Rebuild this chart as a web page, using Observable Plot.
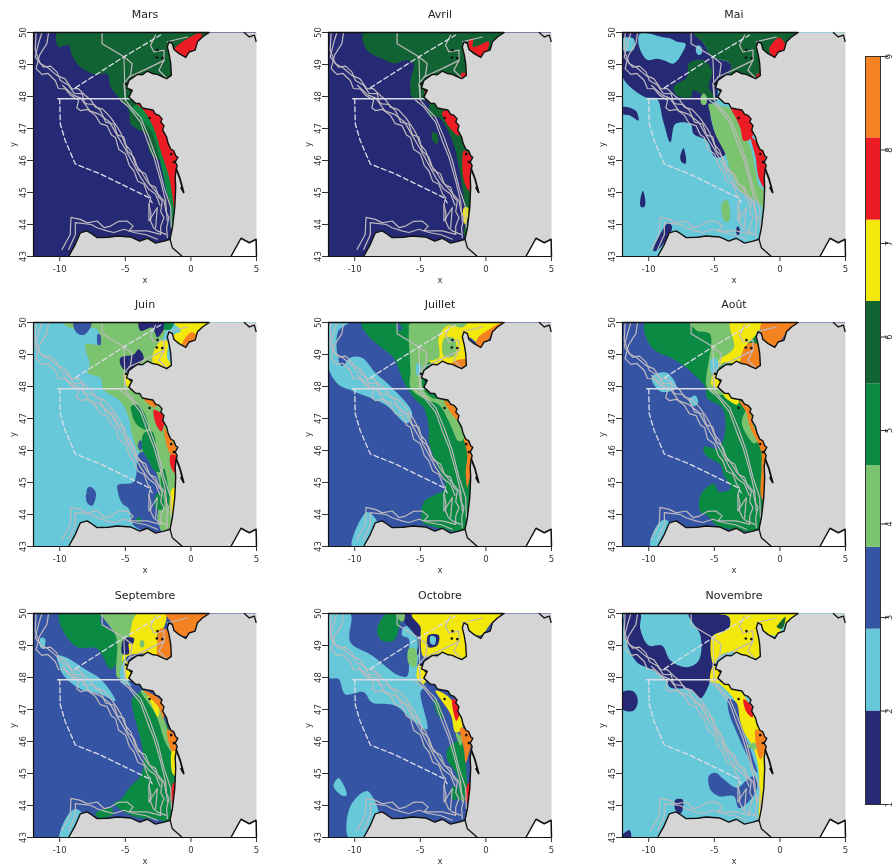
<!DOCTYPE html>
<html><head><meta charset="utf-8">
<script src="https://cdn.jsdelivr.net/npm/d3@7"></script>
<script src="https://cdn.jsdelivr.net/npm/@observablehq/plot@0.6"></script>
<style>
html,body{margin:0;padding:0;background:#fff}
#page{position:relative;width:895px;height:864px;overflow:hidden;filter:blur(.55px)}
#page>svg,#page>figure{position:absolute;margin:0;overflow:visible}
</style></head><body><div id="page"></div>
<script>
const classColors=["#262a75","#66c8d8","#3654a4","#7cc36f","#0b8a43","#126333","#f3e80c","#ec1c24","#f58220"];
const classes=[1,2,3,4,5,6,7,8,9];
const legendBreaks=[1,2,2.875,3.75,4.625,5.5,6.38,7.25,8.13,9];
const legendTicks=[1,2,3,4,5,6,7,8,9];
const lonTicks=[-10,-5,0,5];
const latTicks=[43,44,45,46,47,48,49,50];

const coast=[1.39,50,.88,49.86,.5,49.71,.32,49.45,-.14,49.39,-.39,49.22,-.9,49.34,-1.29,49.47,-1.41,49.65,-1.67,49.71,-1.8,49.55,-1.65,49.3,-1.54,49.03,-1.49,48.66,-1.85,48.56,-2.2,48.62,-2.56,48.69,-2.95,48.72,-3.33,48.79,-3.7,48.68,-4.09,48.69,-4.73,48.5,-4.91,48.27,-4.47,48.19,-4.73,47.98,-4.22,47.79,-3.9,47.78,-3.7,47.64,-3.33,47.61,-2.9,47.58,-2.7,47.45,-2.43,47.41,-2.2,47.3,-2.3,47.2,-2.05,47.09,-2.15,46.95,-1.85,46.73,-1.75,46.55,-1.54,46.36,-1.3,46.3,-1.16,46.15,-1,46.1,-1.2,45.95,-1.05,45.85,-1.11,45.73,-1.2,45.5,-1.16,45.16,-1.23,44.53,-1.41,43.9,-1.59,43.54,-2.05,43.48,-2.7,43.42,-3.33,43.57,-3.9,43.48,-4.6,43.61,-5.62,43.64,-6.3,43.6,-7.15,43.59,-7.6,43.72,-7.92,43.8,-8.43,43.74,-8.81,43.38,-9.32,43];
const gironde=[-1.11,45.73,-.85,45.45,-.55,45.0,-.75,45.15];
const pyrenees=[-1.59,43.54,-1.41,43.27,-.65,43];
const northIsland=[4.07,50,4.45,49.86,4.84,49.92,4.97,49.72];
const lion=[3.05,43,3.82,43.57,4.45,43.43,4.97,43.54,5,43];
const islandLon=[-2.18,-2.55,-2.6,-3.15,-1.5,-1.3,-4.95,-4.6];
const islandLat=[49.2,49.45,49.22,47.33,46.2,45.95,48.4,48.2];

const contours=[
[-10.85,50,-10.98,49.65,-11.3,49.45,-11.54,49.29,-11.8,48.87,-11.36,48.69,-10.9,48.72,-10.34,48.5,-10.1,48.25,-9.58,48.24,-9.2,48.05,-8.56,47.88,-8.7,47.65,-8.43,47.56,-7.9,47.6,-7.28,47.41,-6.9,47.15,-6.39,47.09,-6.05,46.8,-5.75,46.72,-5.5,46.35,-4.98,46.2,-4.7,45.85,-4.35,45.68,-4.05,45.35,-3.58,45.26,-3.3,44.95,-3.07,44.84,-3.2,44.63,-3.05,44.35,-3.07,44.11,-2.85,43.9,-2.56,43.8,-1.92,43.69],
[-11.36,50,-11.62,49.65,-11.87,49.24,-11.24,48.92,-10.7,48.95,-10.22,48.77,-9.95,48.5,-9.32,48.35,-8.9,48.1,-8.3,48.09,-8.1,47.8,-7.92,47.77,-7.4,47.75,-6.9,47.56,-6.5,47.2,-5.88,47.14,-5.6,46.8,-5.11,46.73,-4.85,46.3,-4.35,46.1,-4,45.7,-3.46,45.58,-3.15,45.25,-2.69,45.16,-2.45,44.85,-2.18,44.74,-2.3,44.4,-2.05,44.22,-2.3,43.95,-2.31,43.69],
[-11.8,50,-11.87,49.45,-11.49,49.03,-10.9,48.9,-10.22,48.66,-9.6,48.55,-9.07,48.24,-8.6,48.25,-8.05,48.03,-7.65,47.9,-7.28,47.67,-6.7,47.6,-6.13,47.35,-5.7,47.1,-5.37,46.88,-5,46.5,-4.6,46.31,-4.2,45.85,-3.84,45.68,-3.35,45.35,-2.95,45.16,-2.5,44.95,-2.05,44.74,-1.9,44.4,-1.67,44.22,-1.85,43.9,-1.8,43.59],
[-9.8,48.35,-9,48.05,-8.4,47.95,-7.7,47.55,-7,47.45,-6.2,47.2,-5.5,46.7,-5,46.35,-4.4,45.9,-3.8,45.45,-3.2,45.1,-2.7,44.95,-2.35,44.6],
[-4.99,47.88,-4.48,47.62,-3.84,47.35,-3.2,46.73,-2.56,46,-2.05,45.16,-1.54,44.53,-1.49,43.9],
[-5.37,47.88,-4.73,47.67,-3.84,47.2,-3.33,46.62,-2.82,46.1,-2.31,45.37,-1.93,44.74,-1.8,44.11],
[-6.77,50,-6.77,49.65,-5.11,49.24,-4.48,49.03,-4.6,48.66,-5.11,48.4,-4.99,47.88],
[-2.69,49.92,-3.08,49.6,-2.82,49.39,-2.05,49.45,-2.05,49.13,-2.44,48.82,-1.8,48.56],
[-4.73,48.61,-3.33,48.87,-2.05,49.13],
[-1.8,49.71,-.27,49.86],
[-9.83,43.22,-9.2,43.69,-9.14,44.22,-8.43,44.16,-7.9,44.05,-7.15,44.11,-6.6,43.9,-6.13,43.95,-5.5,44.1,-4.86,44.11,-4.4,43.95,-4.73,43.8,-3.33,43.8,-2.31,43.69],
[-9.32,43.22,-8.81,43.69,-8.81,44.06,-7.6,44,-7.15,43.9,-6.4,43.8,-5.88,43.75,-5.1,43.85,-4.35,43.75,-3.4,43.68,-2.56,43.54],
[-3.2,44.63,-3.2,44.11,-2.56,44.53,-2.69,43.9]
];
const boxLine=[-10.16,47.93,-4.47,47.93];
const ridgeLine=[-5.11,49.24,-5,47.93];
const dashedA=[-10,47.93,-9.96,47.15,-9.58,46.62,-8.81,45.89,-6.9,45.58,-3.2,44.84,-2.95,44.68];
const dashedB=[-8.81,48.27,-5.11,49.24,-2.31,49.92];

const mars=[
[6,[-10.16,50,-10.09,49.55,-9.3,49.6,-9.07,49.29,-8.43,48.92,-7.28,48.69,-6.39,48.71,-6.13,48.3,-5.62,48.03,-4.73,47.56,-4.6,47.14,-3.33,46.78,-3.2,46.31,-2.69,46.08,-1.5,46,-1,48,1.4,50]],
[5,[-4.6,47.6,-3.8,47.3,-3,46.9,-2.6,46.4,-2.2,45.7,-1.9,45.1,-1.55,44.5,-1.5,43.9,-1,43.9,-1,48]],
[8,[-4.3,47.85,-3.58,47.56,-2.82,47,-2.3,46.3,-1.67,45.5,-1.41,44.9,-1.23,44.5,-.9,44.5,-.9,47,-3,48,-4.2,48]],
[8,[-.25,49.81,-1.29,49.45,-.78,49.3,-.3,49.15,.75,49.55,.75,49.97]]];

const avril=[
[6,[-9.32,50,-9.07,49.45,-7.66,49.13,-6.9,49.03,-6.13,49.13,-5.5,49.03,-5.75,48.5,-5.62,47.98,-4.35,47.82,-4.35,47.41,-3.59,47.35,-2.56,46.62,-2.05,45.78,-1.54,44.11,-1.67,43.69,-1,43.5,-1,48,1.4,50]],
[8,[-3.33,47.51,-2.82,47.56,-1.93,47.2,-2.05,46.78,-2.69,46.99]],
[8,[-1.67,46.31,-1.1,46.1,-1.16,45.68,-1.29,45.05,-1.67,45.37,-1.8,45.89]],
[8,[-1.29,49.76,-.98,49.81,-.98,49.55,.24,49.71,-.27,49.22,-.9,49.39,-1.29,49.5]],
[8,[-1.87,48.73,-1.54,48.73,-1.54,48.56,-1.87,48.56]],
[8,[-4.6,48.32,-4.35,48.32,-4.35,48.03,-4.6,48.03]],
[7,[-1.67,44.53,-1.37,44.53,-1.54,44,-1.72,44.11]],
[6,[-4.1,46.88,-3.71,46.83,-3.71,46.52,-4.05,46.62]]];

const mai=[
[1,[-12,50,-6.57,50,-5.8,49.65,-5.17,49.24,-3.77,49.03,-3.77,48.77,-4.66,48.5,-4.79,47.88,-5.17,47.77,-5.3,47.46,-4.92,46.83,-4.15,46.2,-4.92,46.1,-5.55,46.62,-6.57,46.83,-6.82,47.14,-7.97,47.14,-8.35,46.57,-8.91,47.25,-9.38,47.93,-10.27,47.98,-12,48.61]],
[2,[-12,49.81,-11.16,49.81,-11.16,49.45,-12,49.45]],
[2,[-10.65,49.97,-8.99,49.86,-8.35,49.81,-7.84,49.71,-7.2,49.65,-7.33,49.45,-8.1,49.03,-8.86,49.13,-9.38,49.18,-10.14,49.15,-10.78,49.65]],
[2,[-6.3,49.6,-6,49.55,-5.95,49.35,-6.2,49.3,-6.4,49.4]],
[6,[-6.57,50,1.4,50,-1,48.6,-1.5,48.4,-3.8,48.5,-3.77,49.03,-5.17,49.24,-5.8,49.65]],
[6,[-8.1,48.3,-7.08,48.61,-6.95,49.03,-5.8,49.13,-5.17,48.77,-5.42,48.3,-4.79,47.88,-5.3,47.88,-6.57,48.19,-6.82,47.98,-7.84,48.03]],
[4,[-5.42,47.77,-4.66,47.72,-3.77,47.62,-3,46.99,-2.25,46.41,-1.8,45.58,-1.6,45.2,-1.2,45.05,-1.2,44.3,-1.5,44.63,-2.25,44.84,-3,45.05,-3.77,45.68,-4.15,46.2,-4.92,46.83,-5.3,47.46]],
[8,[-3.77,47.69,-3.13,47.65,-2.36,47.35,-1.93,46.99,-2.25,46.67,-2.77,46.62,-3,46.99,-3.38,47.35]],
[8,[-2.2,46.73,-1.2,46.2,-1.1,45.1,-1.62,45.47,-1.85,46.1]],
[8,[-.06,49.84,-.83,49.45,-.32,49.22,.42,49.55]],
[8,[-1.75,48.7,-1.3,48.7,-1.3,48.5,-1.75,48.5]],
[4,[-4.35,44.7,-4,44.75,-3.8,44.35,-3.9,44.1,-4.2,44.1,-4.45,44.4]],
[4,[-6.05,47.95,-5.8,48.1,-5.55,47.95,-5.65,47.75,-5.95,47.75]],
[1,[-7.6,46.1,-7.35,46.38,-7.15,46.05,-7.2,45.9,-7.5,45.95]],
[1,[-10.65,44.75,-10.45,45.05,-10.25,44.7,-10.35,44.55,-10.6,44.55]],
[1,[-3.35,43.8,-3.2,43.95,-3.05,43.8,-3.2,43.65]],
[1,[-8.48,44.06,-8.22,43.9,-9.27,43.22,-9.65,43.17]],
[1,[-12,47.67,-11,47.56,-10.78,47.25,-11.4,47.4,-12,47.46]]];

const juin=[
[4,[-9.7,50,-9.07,49.81,-7.15,49.79,-7.03,49.32,-8.05,49.32,-7.71,48.69,-7.87,48.43,-6.9,48.27,-6.64,47.9,-5.37,47.54,-4.73,47.01,-4.48,46.49,-3.97,45.96,-3.46,45.86,-2.56,45.23,-2.31,44.6,-2.56,43.97,-2.05,43.4,-1,43.4,-1,47,-3,48.5,-2,50]],
[3,[-8.94,50,-8.73,49.69,-8.17,49.61,-7.66,49.84,-7.61,50]],
[3,[-5.57,44.92,-4.35,45.02,-3.97,45.9,-3.46,45.96,-2.56,45.23,-2.31,44.6,-2.56,43.87,-2.31,43.4,-4.35,43.66,-4.73,44.18,-5.24,44.34,-5.57,44.7]],
[3,[-4.05,46.15,-3.85,46.33,-3.65,46.15,-3.85,46]],
[3,[-7.97,44.65,-7.87,44.83,-7.61,44.86,-7.26,44.7,-7.31,44.44,-7.54,44.27,-7.87,44.34,-8.02,44.55]],
[3,[-7.1,49.65,-6.9,49.6,-6.9,49.3,-7.1,49.3]],
[5,[-4.55,47.38,-3.97,47.43,-3.2,46.75,-3.33,46.65,-4.1,46.8,-4.48,47.12]],
[5,[-3.59,46.54,-2.95,46.59,-2.56,45.86,-2.31,45.34,-2.69,45.34,-3.33,45.75,-3.71,46.07]],
[5,[-2.05,45.44,-1.67,44.71,-1.54,44.08,-1.93,44.39,-2.31,45.13]],
[5,[-2.69,44.6,-2.31,44.71,-2.05,44.18,-2.69,44.18]],
[5,[-4.1,43.9,-3.85,43.9,-3.85,43.75,-4.1,43.75]],
[1,[-3.97,50,-1.93,50,-2.56,49.53,-2.95,49.84,-3.84,49.74]],
[1,[-5.37,48.9,-4.35,49,-3.97,49.16,-3.59,48.9,-4.1,48.64,-4.73,48.43,-5.32,48.64]],
[7,[-2.95,48.9,-2.31,49.42,-1.8,49.42,-1.8,48.9,-1.54,48.69,-2.05,48.53,-2.69,48.59]],
[5,[-1.93,50,-1.29,50,-1.54,49.79,-2.05,49.79]],
[7,[-1.29,50,1.26,50,.5,49.69,-.14,49.37,-1.29,49.32,-1.42,49.58,-.78,49.74]],
[9,[0,49.69,.5,49.58,.12,49.27,-.65,49.32]],
[7,[-4.99,48.38,-4.48,48.06,-4.73,47.96,-5.11,48.22]],
[9,[-3.6,47.75,-2.6,47.5,-2.7,47.35,-3.5,47.55]],
[8,[-2.82,47.27,-2.05,47.06,-2.25,46.59,-2.69,46.85]],
[9,[-2.05,46.7,-1.42,46.28,-1,45.96,-1.16,45.75,-1.67,45.96]],
[8,[-1.54,45.86,-1,45.8,-1.16,45.28,-1.54,45.5]],
[7,[-1.42,44.81,-1,44.81,-1,44,-1.5,44]]];

const juillet=[
[2,[-12,50,-10.47,50,-11.24,49.74,-11.36,49.11,-10.98,48.64,-10.34,48.9,-9.45,48.9,-8.43,48.43,-7.41,48.06,-5.62,47.17,-6.01,46.85,-7.66,47.43,-10.09,47.85,-11.24,48.06,-12,48.59]],
[2,[-10.22,43,-9.07,44.08,-8.3,43.76,-9.2,43]],
[5,[-9.45,50,-9.07,49.63,-7.79,49.16,-7.03,48.9,-6.39,48.27,-6.01,47.96,-5.37,47.59,-4.73,47.33,-4.35,46.7,-4.35,46.28,-3.84,45.65,-3.08,44.81,-3.97,44.6,-4.73,44.39,-4.86,43.76,-4.35,43.66,-2.05,43.45,-1,43.4,-1,48,-2,50]],
[3,[-6.75,50,-6.45,49.9,-6.45,49.75,-6.75,49.8]],
[4,[-5.75,50,-1.29,50,-2,49,-3.5,48.8,-4.3,48.8,-4.86,48.02,-4.1,47.64,-3.33,47.59,-1.67,46.38,-2.05,46.28,-2.82,46.91,-3.59,47.43,-4.6,47.59,-5.75,47.96,-5.75,48.48,-5.88,49.74]],
[2,[-5.3,48.7,-5,48.7,-4.95,48.35,-5.25,48.35]],
[7,[-4.35,48.79,-3.59,48.9,-3.59,49.53,-2.95,49.9,-1.8,49.84,-1.29,50,1.26,50,.5,49.74,-.39,49.32,-1.29,49.53,-1.29,48.64,-2.56,48.59]],
[4,[-3.2,49.5,-2.4,49.5,-2.4,48.95,-3.2,48.95]],
[9,[-.65,49.5,.3,49.8,1.26,50,.4,49.6,-.3,49.2,-.7,49.3]],
[9,[-2.56,48.74,-1.54,48.85,-1.42,48.59,-2.44,48.53]],
[9,[-3.2,47.56,-2.56,47.43,-1.93,47.01,-2.18,46.96,-2.82,47.27]],
[9,[-1.67,46.38,-1,46.02,-1.16,45.34,-1.42,44.86,-1.54,45.34,-1.42,45.86]]];

const aout=[
[5,[-10.27,50,-9.75,49.21,-8.1,48.85,-6.82,48.48,-5.67,47.96,-5.55,47.64,-4.4,47.33,-4.15,46.7,-4.66,46.07,-5.8,46.12,-5.67,45.86,-4.53,45.55,-4.27,45.23,-3.77,44.81,-4.66,44.71,-5.04,44.97,-6.06,44.6,-6.06,44.08,-5.55,43.97,-4.79,43.66,-1.98,43.45,-1,43.4,-1,48,-2,50]],
[4,[-6.82,50,-3.77,50,-3.51,49.21,-4.53,48.69,-4.92,48.38,-4.27,47.75,-4.66,47.75,-5.55,47.96,-5.32,49.63,-6.31,49.74]],
[7,[-3.77,50,-1.34,50,-1.98,49.53,-2.49,49.32,-3.13,48.74,-4.27,48.74,-5.04,48.46,-5.17,48.64,-4.6,48.85,-3.51,49.21]],
[9,[-1.34,50,1.26,50,.58,49.74,-.32,49.27,-1.16,49.42,-1.49,49.74]],
[9,[-2.49,49.32,-1.72,49.32,-1.49,48.69,-2.49,48.5,-3,48.79]],
[7,[-5.04,48.38,-4.4,48.06,-4.66,47.98,-5.24,48.06]],
[7,[-4.27,47.8,-3.13,47.56,-3.25,47.43,-4.27,47.7]],
[2,[-9.75,48.32,-8.61,48.43,-7.9,47.96,-8.99,47.83,-9.62,48.06]],
[2,[-6.95,47.59,-6.44,47.72,-6.24,47.49,-6.57,47.38]],
[2,[-9.88,43,-9.38,43.66,-8.73,43.84,-8.22,43.55,-9.27,43]],
[2,[-5.25,48.85,-4.75,48.85,-4.8,48.4,-5.2,48.4]],
[4,[-2.49,47.27,-1.72,46.28,-1.98,46.22,-2.9,46.85]],
[9,[-3.13,47.56,-2.33,47.33,-1.98,46.7,-1,46.22,-1.1,45.44,-1.2,44.4,-1.45,44.6,-1.4,45.44,-1.45,46,-2.25,46.7,-2.6,47.22]]];

const septembre=[
[5,[-10,50,-9.83,49.53,-8.68,48.95,-7.15,48.9,-6.13,48.27,-5.62,48.48,-5.62,49,-5.75,49.32,-6.9,49.74,-6.9,50]],
[4,[-6.9,50,-4.1,50,-4.73,49.21,-5.24,48,-5.62,48,-5.62,49,-5.75,49.32,-6.64,49.84]],
[7,[-4.1,50,-1.93,50,-2.05,49.58,-2.56,49.32,-2.31,48.59,-3.33,48.74,-4.73,48.69,-5.24,48.53,-4.73,49.21]],
[4,[-3.85,49.15,-3.6,49.15,-3.6,48.95,-3.85,48.95]],
[1,[-5.11,49.21,-4.35,49.23,-4.42,49.06,-4.73,49.06,-4.73,48.74,-5.24,48.74]],
[9,[-1.93,50,1.26,50,.62,49.69,-.14,49.32,-1.29,49.37,-1.42,49.69]],
[9,[-2.31,49.53,-1.67,49.42,-1.54,48.59,-2.44,48.56,-2.56,49.11]],
[2,[-5.37,48.27,-4.99,48.53,-4.73,47.85,-4.48,47.75,-5.24,47.85]],
[7,[-4.99,48.53,-4.35,48.11,-4.6,47.9,-5.06,48.06]],
[5,[-4.48,47.33,-3.84,47.54,-3.08,47.22,-1.93,46.59,-1.16,45.65,-1.29,43.97,-1.54,43.4,-2.31,43.55,-4.35,43.66,-5.88,44.08,-5.37,44.18,-4.6,44.6,-3.84,44.92,-3.59,45.44,-3.97,46.28,-4.35,46.85]],
[5,[-7.28,43.76,-6.13,43.92,-5.88,43.76,-6.9,43.6]],
[2,[-10.22,48.69,-9.58,48.64,-7.92,48.22,-6.9,47.96,-5.75,47.27,-6.9,47.48,-8.43,47.64,-9.71,48.06,-10.09,48.43]],
[2,[-10,43,-9.45,43.66,-8.81,43.89,-8.3,43.76,-8.43,43.5,-9.32,43]],
[2,[-11.44,49.24,-11.11,49.2,-11.24,48.9,-11.49,48.95]],
[4,[-3.84,47.59,-3.08,47.48,-2.05,46.7,-1.42,45.65,-1.93,45.96,-2.69,46.85]],
[7,[-3.33,47.43,-2.44,47.06,-2.51,46.76,-3.08,47.22]],
[9,[-3.59,47.59,-2.56,47.38,-2.05,47.12,-2.13,46.7,-2.44,47.06]],
[9,[-1.8,46.38,-1,46.07,-1.16,45.44,-1.54,45.75]],
[7,[-1.42,45.7,-1,45.65,-1.2,44.92,-1.42,45.02]],
[8,[-1.34,44.71,-1,44.71,-1,44.08,-1.42,44.08]]];

const octobre=[
[2,[-12,50,-10.34,50,-10.34,49.11,-8.68,48.69,-6.64,48.06,-6.01,48.04,-5.88,48.79,-5.88,49.21,-6.39,49.32,-6.26,49.58,-5.62,49.58,-4.99,49.32,-5.24,48.27,-5.11,47.85,-4.73,47.7,-4.99,47.54,-4.48,46.38,-5.37,46.59,-6.9,47.12,-8.68,47.22,-9.32,47.54,-10.73,47.48,-11.24,47.96,-12,48]],
[2,[-10.47,43,-10.34,43.97,-9.07,44.45,-8.3,43.97,-8.17,43.55,-9.32,43]],
[2,[-11.62,44.6,-11.24,44.86,-10.6,44.34,-10.85,44.29]],
[1,[-6.13,50,-5.11,50,-4.73,49.32,-5.24,48.69,-5.24,49.21,-6.26,49.79]],
[5,[-8.3,49.48,-7.54,50,-6.52,49.9,-6.64,49.53,-7.03,49.16,-7.92,49.16]],
[4,[-6.75,50,-6.2,50,-6.3,49.75,-6.6,49.8]],
[4,[-5.88,48.9,-5.37,48.9,-5.37,48.32,-5.88,48.43]],
[7,[-5.62,50,1.13,50,.37,49.69,-.39,49.32,-1.29,49.42,-1.54,49.69,-1.54,48.64,-2.56,48.59,-3.59,48.74,-4.73,48.64,-4.99,49.21,-4.99,49.58,-5.62,49.9]],
[1,[-4.4,49.32,-3.59,49.32,-3.71,49,-4.4,48.95]],
[2,[-4.22,49.3,-3.84,49.26,-3.9,49.03,-4.22,49.06]],
[7,[-5.11,48.43,-4.48,48.06,-4.73,47.8,-5.24,47.96]],
[7,[-3.84,47.59,-2.95,47.43,-2.05,46.91,-1.8,46.38,-2.31,46.28,-2.69,46.85]],
[8,[-2.56,47.33,-1.93,47.12,-2.25,46.64]],
[5,[-3.97,47.33,-3.59,47.22,-3.28,46.7,-3.71,46.85]],
[5,[-2.95,45.75,-2.44,45.96,-1.93,46.02,-1.49,45.02,-1.49,44.18,-2.05,44.18,-2.18,44.92,-2.95,45.44]],
[5,[-2.56,44.6,-2.18,44.5,-2.25,44.18,-2.62,44.23]],
[4,[-2.31,46.28,-1.8,46.12,-1.93,45.86]],
[9,[-1.93,46.43,-1,46.17,-1.16,45.86,-1.54,45.34,-1.67,45.75]],
[8,[-1.34,44.7,-1,44.7,-1,44.08,-1.49,44.08]]];

const novembre=[
[1,[-11.8,50,-10.65,50,-10.65,49.53,-10,49,-8.99,49,-8.35,48.53,-7.08,48.32,-6.19,48.53,-6.06,49.32,-6.95,50,-3.89,49.9,-3.89,49.53,-5.17,49.27,-5.04,48.38,-5.3,47.9,-6.06,47.35,-6.82,47.64,-8.35,47.69,-8.73,47.96,-9.88,48.27,-10.9,48.48,-11.67,49.11]],
[7,[-5.67,50,1.2,50,.42,49.69,-.32,49.32,-1.16,49.42,-1.49,49.69,-1.62,48.64,-2.49,48.59,-3.51,48.79,-4.5,48.7,-5.04,48.38,-5.17,49.27,-3.89,49.53,-3.89,49.9]],
[1,[-7.97,44.18,-7.41,44.18,-7.54,43.76,-7.97,43.87]],
[1,[-12,47.54,-11.16,47.56,-10.83,47.28,-11.16,46.96,-12,47.01]],
[1,[-12,43.08,-11.46,43.23,-11.36,43,-12,43]],
[7,[-5.04,48.38,-4.4,48.06,-4.66,47.83,-5.3,47.9]],
[7,[-4.66,47.85,-3,47.56,-1.85,46.7,-1.1,46.12,-1.1,44.6,-1.42,43.97,-1.6,43.5,-1.6,44.18,-1.6,45.02,-1.98,45.75,-3,46.49,-3.51,47.33]],
[3,[-5.42,44.92,-4.92,45.02,-4.27,44.81,-3.25,44.55,-2.49,44.81,-1.98,44.92,-1.72,44.6,-2.25,44.18,-3.13,43.92,-3.51,44.29,-4.66,44.29,-5.3,44.5]],
[3,[-3.95,47.33,-3.33,47.22,-3,46.59,-2.25,45.75,-1.72,45.02,-2.49,45.55,-3.51,46.49,-3.89,46.91]],
[8,[-2.77,47.33,-2.1,47.06,-2.1,46.75,-2.6,46.96]],
[9,[-1.85,46.38,-1,46.17,-1.05,45.86,-1.49,45.44]],
[4,[-2.49,45.86,-1.93,45.96,-1.8,45.75]],
[6,[-.07,49.69,.42,49.9,.17,49.53,-.25,49.58]]];

const panels=[
["Mars",1,mars,0,0],["Avril",1,avril,1,0],["Mai",2,mai,2,0],
["Juin",2,juin,0,1],["Juillet",3,juillet,1,1],["Août",3,aout,2,1],
["Septembre",3,septembre,0,2],["Octobre",3,octobre,1,2],["Novembre",2,novembre,2,2]];
const colLeft=[0,295,589], rowTop=[0,290,581];

const toRows=(flat,id,extra={})=>{const r=[];for(let i=0;i<flat.length;i+=2)r.push({id,lon:flat[i],lat:flat[i+1],...extra});return r;};
const landPoly=toRows([...coast,5,43,5,50],"land");
const lionPoly=toRows(lion,"lion");
const contourRows=contours.flatMap((c,i)=>toRows(c,i));
const page=document.getElementById("page");
const fontFamily="'DejaVu Sans',sans-serif";
const black="#111", pale="#dcdce6";

for(const [title,base,polys,col,row] of panels){
  const fills=polys.flatMap(([cls,pts],i)=>toRows(pts,i,{cls}));
  const p=Plot.plot({
    width:270,height:290,marginLeft:33,marginRight:14,marginTop:32,marginBottom:34,
    style:{fontFamily,fontSize:"8.5px",color:"#333",background:"transparent",overflow:"visible"},
    x:{domain:[-12,5]},y:{domain:[43,50]},
    color:{type:"ordinal",domain:classes,range:classColors},
    marks:[
      Plot.rect([{cls:base}],{x1:-12,x2:5,y1:43,y2:50,fill:"cls"}),
      Plot.line(fills,{x:"lon",y:"lat",z:"id",fill:"cls",stroke:"none",curve:"catmull-rom-closed",clip:"frame"}),
      Plot.line(landPoly,{x:"lon",y:"lat",fill:"#d5d5d5",stroke:"none"}),
      Plot.line(lionPoly,{x:"lon",y:"lat",fill:"#fff",stroke:black,strokeWidth:1.5}),
      Plot.line(contourRows,{x:"lon",y:"lat",z:"id",stroke:"#bfbabe",strokeWidth:1.2}),
      Plot.line(toRows(boxLine,"b"),{x:"lon",y:"lat",stroke:pale,strokeWidth:1.4}),
      Plot.line(toRows(ridgeLine,"r"),{x:"lon",y:"lat",stroke:"#c8c8c8",strokeWidth:1}),
      Plot.line(toRows(dashedA,"a"),{x:"lon",y:"lat",stroke:pale,strokeWidth:1.3,strokeDasharray:"5,3"}),
      Plot.line(toRows(dashedB,"d"),{x:"lon",y:"lat",stroke:pale,strokeWidth:1.3,strokeDasharray:"5,3"}),
      Plot.line(toRows(coast,"c"),{x:"lon",y:"lat",stroke:black,strokeWidth:1.4}),
      Plot.line(toRows(gironde,"g"),{x:"lon",y:"lat",stroke:black,strokeWidth:1.8}),
      Plot.line(toRows(pyrenees,"p"),{x:"lon",y:"lat",stroke:black,strokeWidth:1.3}),
      Plot.line(toRows(northIsland,"n"),{x:"lon",y:"lat",stroke:black,strokeWidth:1.3}),
      Plot.dot(islandLon,{x:d=>d,y:(d,i)=>islandLat[i],r:1.3,fill:black,stroke:"none"}),
      Plot.ruleY([50],{x1:-12,x2:coast[0],stroke:black,strokeWidth:1.3}),
      Plot.ruleY([43],{x1:-12,x2:5,stroke:black,strokeWidth:1.2}),
      Plot.ruleX([-12],{y1:43,y2:50,stroke:black,strokeWidth:1.2}),
      Plot.axisX({ticks:lonTicks,tickSize:5,tickPadding:4,tickFormat:String,label:"x",labelAnchor:"center",labelArrow:"none",labelOffset:26}),
      Plot.axisY({ticks:latTicks,tickSize:6,tickPadding:2,tickRotate:-90,tickFormat:String,label:"y",labelAnchor:"center",labelArrow:"none",labelOffset:24}),
      Plot.text([title],{frameAnchor:"top",dy:-18,lineAnchor:"middle",fontSize:11,fill:"#222"})
    ]});
  p.style.left=colLeft[col]+"px";p.style.top=rowTop[row]+"px";
  page.appendChild(p);
}

const legendRows=classes.map((c,i)=>({cls:c,y1:legendBreaks[i],y2:legendBreaks[i+1]}));
const lg=Plot.plot({
  width:50,height:756,marginLeft:5,marginRight:30,marginTop:5,marginBottom:3,
  style:{fontFamily,fontSize:"8.5px",color:"#333",background:"transparent",overflow:"visible"},
  x:{domain:[0,1],axis:null},y:{domain:[1,9]},
  color:{type:"ordinal",domain:classes,range:classColors},
  marks:[
    Plot.rect(legendRows,{x1:0,x2:1,y1:"y1",y2:"y2",fill:"cls"}),
    Plot.frame({stroke:"#333",strokeWidth:1}),
    Plot.axisY({anchor:"right",ticks:legendTicks,tickSize:7,tickPadding:4,tickRotate:-90,tickFormat:String,label:null})
  ]});
lg.style.left="860px";lg.style.top="51px";
page.appendChild(lg);
</script></body></html>
